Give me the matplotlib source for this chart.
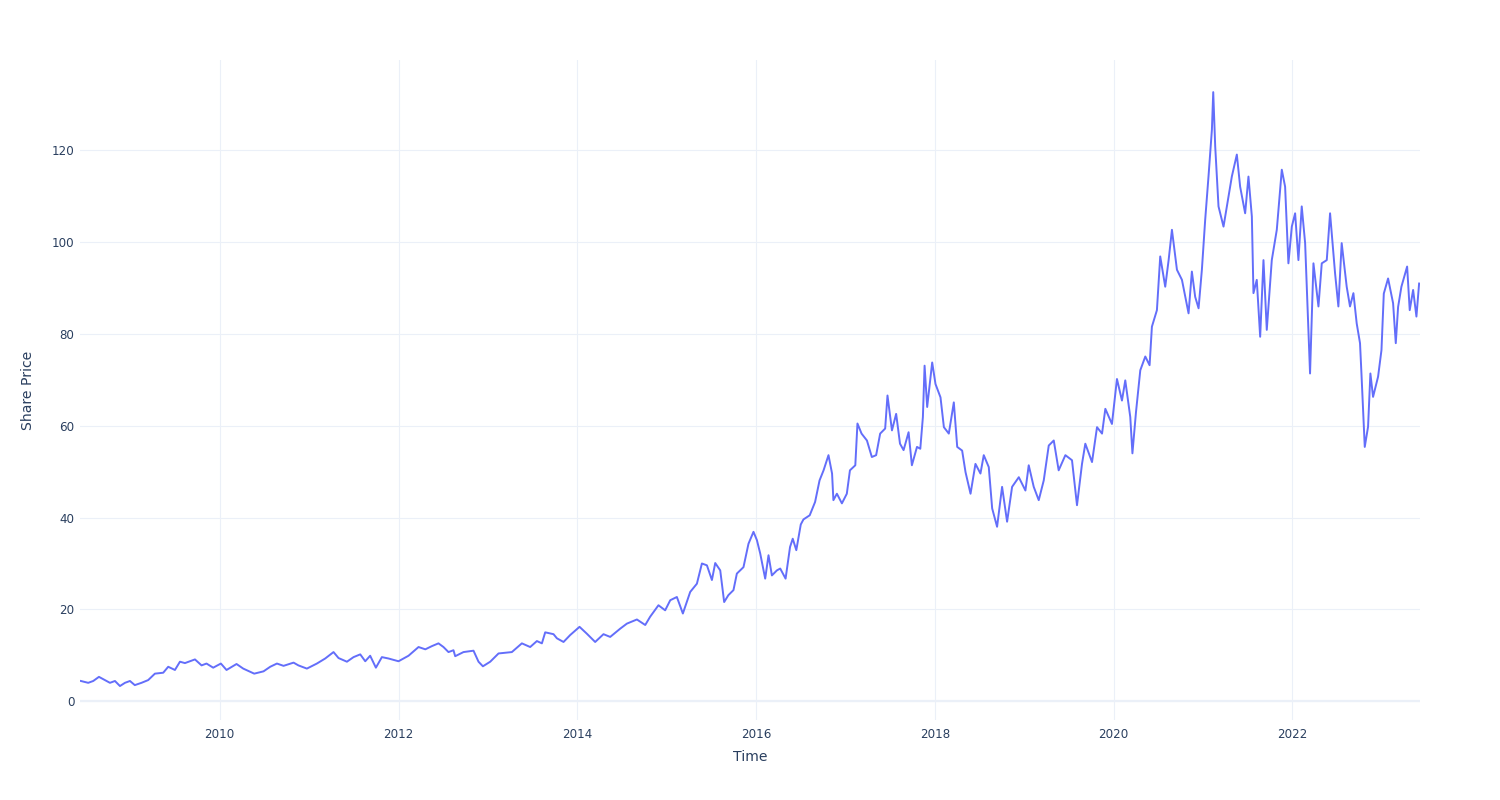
import matplotlib
matplotlib.use("Agg")
import matplotlib.pyplot as plt

# decimal year and share price
years = [
    2008.447, 2008.529, 2008.585, 2008.649, 2008.716, 2008.772, 2008.828, 2008.884,
    2008.940, 2008.996, 2009.050, 2009.125, 2009.200, 2009.275, 2009.368, 2009.424,
    2009.499, 2009.555, 2009.611, 2009.723, 2009.797, 2009.852, 2009.927, 2010.013,
    2010.076, 2010.188, 2010.263, 2010.386, 2010.490, 2010.565, 2010.640, 2010.714,
    2010.826, 2010.880, 2010.975, 2011.087, 2011.180, 2011.273, 2011.329, 2011.423,
    2011.497, 2011.572, 2011.628, 2011.683, 2011.747, 2011.814, 2011.888, 2012.000,
    2012.112, 2012.224, 2012.300, 2012.374, 2012.447, 2012.503, 2012.559, 2012.615,
    2012.634, 2012.727, 2012.839, 2012.895, 2012.944, 2013.026, 2013.119, 2013.268,
    2013.380, 2013.473, 2013.548, 2013.604, 2013.641, 2013.734, 2013.772, 2013.846,
    2013.920, 2014.025, 2014.107, 2014.200, 2014.293, 2014.368, 2014.480, 2014.555,
    2014.667, 2014.760, 2014.815, 2014.908, 2014.983, 2015.040, 2015.114, 2015.181,
    2015.263, 2015.338, 2015.394, 2015.450, 2015.506, 2015.543, 2015.599, 2015.643,
    2015.690, 2015.747, 2015.785, 2015.859, 2015.915, 2015.971, 2016.009, 2016.046,
    2016.102, 2016.139, 2016.177, 2016.233, 2016.270, 2016.330, 2016.380, 2016.410,
    2016.450, 2016.500, 2016.530, 2016.600, 2016.660, 2016.710, 2016.755, 2016.810,
    2016.850, 2016.865, 2016.904, 2016.960, 2017.015, 2017.050, 2017.110, 2017.134,
    2017.180, 2017.240, 2017.295, 2017.343, 2017.388, 2017.444, 2017.470, 2017.520,
    2017.567, 2017.610, 2017.650, 2017.706, 2017.743, 2017.800, 2017.837, 2017.866,
    2017.885, 2017.914, 2017.970, 2018.007, 2018.063, 2018.101,
    2018.156, 2018.212, 2018.250, 2018.305, 2018.343, 2018.399, 2018.454, 2018.510,
    2018.547, 2018.603, 2018.641, 2018.696, 2018.752, 2018.808, 2018.864, 2018.939,
    2019.013, 2019.050, 2019.106, 2019.162, 2019.218, 2019.274, 2019.330, 2019.385,
    2019.460, 2019.534, 2019.590, 2019.646, 2019.683, 2019.758, 2019.814, 2019.870,
    2019.907, 2019.981, 2020.037, 2020.093, 2020.130, 2020.186, 2020.210, 2020.250,
    2020.298, 2020.354, 2020.402, 2020.428, 2020.484, 2020.521, 2020.577, 2020.615,
    2020.652, 2020.708, 2020.764, 2020.838, 2020.875, 2020.912, 2020.950, 2020.987,
    2021.024, 2021.061, 2021.099, 2021.114, 2021.136, 2021.173, 2021.229, 2021.285,
    2021.322, 2021.378, 2021.415, 2021.471, 2021.508, 2021.546, 2021.564, 2021.601,
    2021.639, 2021.676, 2021.713, 2021.769, 2021.825, 2021.881, 2021.918, 2021.955,
    2021.993, 2022.030, 2022.067, 2022.104, 2022.142, 2022.197, 2022.235, 2022.291,
    2022.328, 2022.384, 2022.421, 2022.477, 2022.514, 2022.551, 2022.607, 2022.644,
    2022.682, 2022.719, 2022.756, 2022.772, 2022.809, 2022.846, 2022.872, 2022.902,
    2022.958, 2022.996, 2023.022, 2023.070, 2023.126, 2023.156, 2023.182, 2023.219,
    2023.283, 2023.312, 2023.350, 2023.387, 2023.417,
]
prices = [
    4.4, 4.0, 4.4, 5.3, 4.6, 4.0, 4.4, 3.3,
    4.0, 4.4, 3.5, 4.0, 4.6, 6.0, 6.2, 7.5,
    6.8, 8.6, 8.3, 9.1, 7.8, 8.2, 7.3, 8.2,
    6.8, 8.1, 7.1, 6.0, 6.5, 7.5, 8.2, 7.7,
    8.4, 7.8, 7.1, 8.2, 9.3, 10.7, 9.4, 8.6,
    9.6, 10.2, 8.7, 9.9, 7.3, 9.6, 9.3, 8.7,
    9.9, 11.8, 11.3, 12.0, 12.6, 11.8, 10.7, 11.1,
    9.8, 10.7, 11.0, 8.6, 7.6, 8.6, 10.4, 10.7,
    12.6, 11.8, 13.1, 12.6, 15.0, 14.6, 13.7, 12.9,
    14.4, 16.2, 14.7, 12.9, 14.6, 14.0, 15.8, 16.9,
    17.8, 16.6, 18.4, 20.9, 19.8, 22.0, 22.7, 19.1,
    23.8, 25.6, 30.0, 29.6, 26.4, 30.1, 28.5, 21.6,
    23.1, 24.2, 27.8, 29.2, 34.3, 36.9, 35.1, 32.2,
    26.7, 31.8, 27.4, 28.5, 28.9, 26.7, 33.6, 35.4,
    32.9, 38.5, 39.6, 40.5, 43.4, 48.1, 50.3, 53.6,
    49.6, 43.8, 45.2, 43.1, 45.2, 50.3, 51.4, 60.5,
    58.3, 56.8, 53.2, 53.6, 58.3, 59.4, 66.6, 59.0,
    62.6, 56.1, 54.7, 58.6, 51.4, 55.4, 55.0, 61.9,
    73.1, 64.1, 73.8, 69.1, 66.2, 59.7,
    58.3, 65.1, 55.4, 54.6, 49.9, 45.2, 51.7, 49.6,
    53.6, 51.0, 42.0, 38.0, 46.7, 39.1, 46.7, 48.8,
    45.9, 51.4, 46.7, 43.8, 48.1, 55.7, 56.8, 50.3,
    53.6, 52.5, 42.7, 51.7, 56.1, 52.1, 59.7, 58.3,
    63.7, 60.4, 70.2, 65.5, 69.9, 61.9, 54.0, 63.0,
    72.1, 75.1, 73.2, 81.6, 85.2, 96.9, 90.3, 96.1,
    102.7, 94.0, 91.8, 84.5, 93.6, 88.1, 85.6, 94.0,
    104.9, 114.3, 124.5, 132.7, 120.9, 107.8, 103.4, 110.0,
    114.3, 119.1, 112.1, 106.3, 114.3, 105.6, 88.9, 91.8,
    79.4, 96.1, 80.9, 96.1, 102.7, 115.8, 112.1, 95.4,
    103.4, 106.3, 96.1, 107.8, 99.8, 71.4, 95.4, 86.0,
    95.4, 96.1, 106.3, 93.2, 86.0, 99.8, 90.3, 86.0,
    88.9, 82.3, 78.0, 71.4, 55.4, 59.8, 71.4, 66.3,
    70.7, 76.5, 88.8, 92.1, 86.7, 78.0, 85.9, 90.3,
    94.7, 85.2, 89.6, 83.8, 91.0,
]
year_ticks = [2010, 2012, 2014, 2016, 2018, 2020, 2022]
price_ticks = [0, 20, 40, 60, 80, 100, 120]

grid_color = "#EBF0F8"
text_color = "#2a3f5f"
plt.rcParams["font.family"] = ["DejaVu Sans"]

fig = plt.figure(figsize=(15, 8), dpi=100)
ax = fig.add_axes([80 / 1500, 80 / 800, 1340 / 1500, 660 / 800])

ax.plot(years, prices, color="#636efa", linewidth=1.4, zorder=3)

ax.set_xlim(min(years) - 0.01, max(years) + 0.01)
ax.set_ylim(-4.1, 139.7)

ax.set_xticks(year_ticks)
ax.set_xticklabels([str(y) for y in year_ticks])
ax.set_yticks(price_ticks)
ax.grid(True, color=grid_color, linewidth=0.8, zorder=0)
ax.axhline(0, color=grid_color, linewidth=1.6, zorder=1)

for s in ax.spines.values():
    s.set_visible(False)
ax.tick_params(axis="both", length=0, labelsize=8.6, labelcolor=text_color)
ax.tick_params(axis="x", pad=6)
ax.tick_params(axis="y", pad=4)

ax.set_xlabel("Time", fontsize=10.1, color=text_color, labelpad=6)
ax.set_ylabel("Share Price", fontsize=10.1, color=text_color, labelpad=12)

fig.savefig("out.png", dpi=100, facecolor="white")
